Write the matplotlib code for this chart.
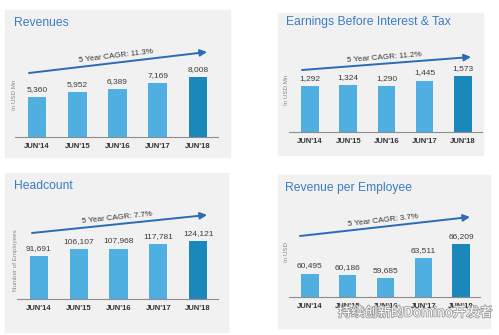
import matplotlib
matplotlib.use("Agg")
import matplotlib.pyplot as plt
import matplotlib.patheffects as pe
from matplotlib.patches import Rectangle

plt.rcParams['font.family'] = ['Liberation Sans', 'DejaVu Sans']

# data
years = ["JUN'14", "JUN'15", "JUN'16", "JUN'17", "JUN'18"]
revenues = [5360, 5952, 6389, 7169, 8008]
ebit = [1292, 1324, 1290, 1445, 1573]
headcount = [91691, 106107, 107968, 117781, 124121]
rev_per_emp = [60495, 60186, 59685, 63511, 66209]

titles = ["Revenues", "Earnings Before Interest & Tax", "Headcount", "Revenue per Employee"]
ylabels = ["In USD Mn", "In USD Mn", "Number of Employees", "In USD"]
cagr = ["5 Year CAGR: 11.3%", "5 Year CAGR: 11.2%", "5 Year CAGR: 7.7%", "5 Year CAGR: 3.7%"]

W, H = 499, 335
LIGHT = '#4fafe0'
DARK = '#1b88bb'
ARROW = '#2a6cb6'
TITLE = '#3a7cc6'
BG = '#f1f1f1'


def fx(x):
    return x / W


def fy(y):
    return 1 - y / H


fig = plt.figure(figsize=(W / 100, H / 100), dpi=100)


def panel(values, title, ylabel, label, bg, axis, ylim, title_xy, ylab_xy, arrow):
    # gray card behind the chart
    x0, y0, x1, y1 = bg
    fig.patches.append(Rectangle((fx(x0), fy(y1)), fx(x1 - x0), (y1 - y0) / H,
                                 transform=fig.transFigure, color=BG, zorder=-1))
    fig.text(fx(title_xy[0]), fy(title_xy[1]), title, color=TITLE, fontsize=8.7,
             ha='left', va='center')
    fig.text(fx(ylab_xy[0]), fy(ylab_xy[1]), ylabel, color='#8a8a8a', fontsize=4.5,
             rotation=90, ha='center', va='center')

    left, right, base = axis
    ax = fig.add_axes([fx(left), fy(base), fx(right - left), 80 / H])
    ax.patch.set_alpha(0)
    colors = [LIGHT] * (len(values) - 1) + [DARK]
    pos = list(range(len(values)))
    ax.bar(pos, values, width=0.46, color=colors, zorder=2)
    for p, v in zip(pos, values):
        ax.annotate(f"{v:,}", xy=(p, v), xytext=(0, 3), textcoords='offset points',
                    ha='center', va='bottom', fontsize=6, color='#3c3c3c')
    ax.set_xlim(-0.55, 4.5)
    ax.set_ylim(*ylim)
    ax.set_xticks(pos)
    ax.set_xticklabels(years, fontsize=5.5, color='#333333', fontweight='bold')
    ax.tick_params(axis='x', length=0, pad=4)
    ax.set_yticks([])
    for s in ['top', 'left', 'right']:
        ax.spines[s].set_visible(False)
    ax.spines['bottom'].set_color('#8c8c8c')
    ax.spines['bottom'].set_linewidth(0.8)

    # CAGR arrow
    (ax0, ay0), (ax1, ay1) = arrow
    fig.add_artist(plt.Annotation('', xy=(fx(ax1), fy(ay1)), xytext=(fx(ax0), fy(ay0)),
                                  xycoords='figure fraction', textcoords='figure fraction',
                                  arrowprops=dict(arrowstyle='-|>', color=ARROW, lw=1.4,
                                                  mutation_scale=10, shrinkA=0, shrinkB=0)))
    ang = -(ay1 - ay0) / (ax1 - ax0) * 57.3
    mx = (ax0 + ax1) / 2 - 2
    my = (ay0 + ay1) / 2 - 6
    fig.text(fx(mx), fy(my), label, fontsize=5.8, color='#333333', rotation=ang,
             ha='center', va='center', rotation_mode='anchor')
    return ax


panel(revenues, titles[0], ylabels[0], cagr[0], bg=(5, 10, 230, 157), axis=(15, 218, 137),
      ylim=(0, 10677), title_xy=(14, 23), ylab_xy=(15, 95), arrow=((29, 73), (207, 52)))
panel(ebit, titles[1], ylabels[1], cagr[1], bg=(278, 13, 483, 155), axis=(289, 482, 132),
      ylim=(0, 2247), title_xy=(286, 22), ylab_xy=(287, 90), arrow=((302, 70), (471, 57)))
panel(headcount, titles[2], ylabels[2], cagr[2], bg=(5, 173, 228, 332), axis=(17, 218, 299),
      ylim=(0, 171201), title_xy=(14, 186), ylab_xy=(15, 260), arrow=((32, 233), (207, 215)))
panel(rev_per_emp, titles[3], ylabels[3], cagr[3], bg=(278, 175, 490, 328), axis=(289, 480, 297),
      ylim=(56000, 71355), title_xy=(285, 188), ylab_xy=(286, 252), arrow=((300, 236), (470, 217)))

# watermark
fig.text(fx(338), fy(313), "持续创新的Domino开发者", fontsize=9.5, color='white',
         family=['Noto Sans CJK SC', 'DejaVu Sans'], ha='left', va='center',
         path_effects=[pe.withStroke(linewidth=1.2, foreground='#9a9a9a')])

fig.savefig("out.png", dpi=100)
